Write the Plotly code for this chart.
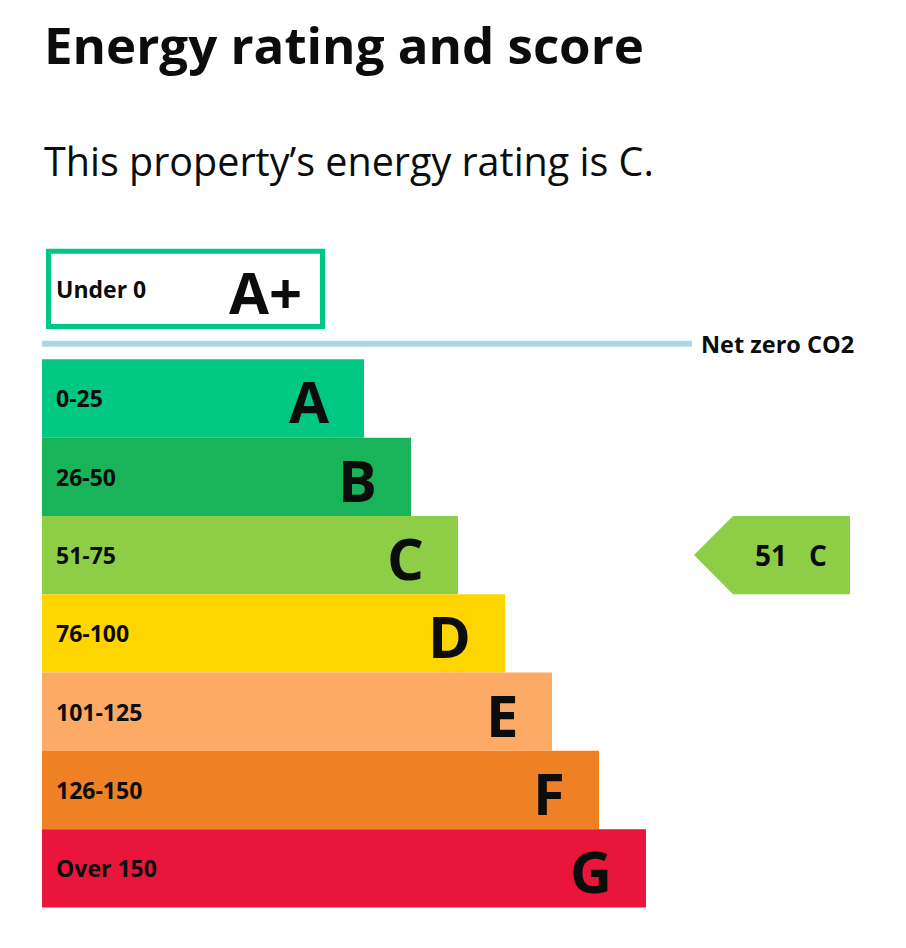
import plotly.graph_objects as go

# EPC bands, best to worst
bands = ['A', 'B', 'C', 'D', 'E', 'F', 'G']
score_ranges = ['0-25', '26-50', '51-75', '76-100', '101-125', '126-150', 'Over 150']
bar_lengths = [322, 369, 416, 463, 510, 557, 604]
band_colors = ['#00c781', '#19b459', '#8dce46', '#ffd500', '#fcaa65', '#ef8023', '#e9153b']

plus_band = 'A+'
plus_range = 'Under 0'
plus_length = 274

current_score = 51
current_band = 'C'

title = 'Energy rating and score'
subtitle = 'This property\u2019s energy rating is C.'
net_zero_label = 'Net zero CO2'
net_zero_length = 650

FONT = 'Open Sans'
INK = '#0b0c0c'
W, H = 906, 948
OFF = 8  # page body margin

rows = list(range(1, len(bands) + 1))

fig = go.Figure()

# main band bars
fig.add_trace(go.Bar(
    x=bar_lengths, y=rows, orientation='h', width=1,
    marker=dict(color=band_colors, line=dict(width=0)),
    hoverinfo='skip'))

# A+ outlined box
fig.add_trace(go.Bar(
    x=[plus_length], y=[-0.4], base=[6.5], orientation='h', width=0.958,
    marker=dict(color='white', line=dict(color='#00c781', width=5)),
    hoverinfo='skip'))

# net zero line
fig.add_trace(go.Scatter(
    x=[0, net_zero_length], y=[0.3, 0.3], mode='lines',
    line=dict(color='#add5e3', width=6), hoverinfo='skip'))

# current rating pointer
r = bands.index(current_band) + 1
tip, shoulder, right = 652, 691, 808
fig.add_trace(go.Scatter(
    x=[tip, shoulder, right, right, shoulder, tip],
    y=[r, r - 0.5, r - 0.5, r + 0.5, r + 0.5, r],
    mode='lines', fill='toself', fillcolor=band_colors[r - 1],
    line=dict(width=0, color=band_colors[r - 1]), hoverinfo='skip'))

ann = []
for i, (b, rng, ln) in enumerate(zip(bands, score_ranges, bar_lengths)):
    ann.append(dict(x=12, y=i + 1, text='<b>%s</b>' % rng, showarrow=False,
                    xanchor='left', yanchor='middle',
                    font=dict(family=FONT, size=23, color=INK)))
    ann.append(dict(x=ln - 32, y=i + 1.03, text='<b>%s</b>' % b, showarrow=False,
                    xanchor='right', yanchor='middle',
                    font=dict(family=FONT, size=58, color=INK)))

ann.append(dict(x=12, y=-0.4, text='<b>%s</b>' % plus_range, showarrow=False,
                xanchor='left', yanchor='middle',
                font=dict(family=FONT, size=23, color=INK)))
ann.append(dict(x=plus_length - 12, y=-0.37, text='<b>%s</b>' % plus_band, showarrow=False,
                xanchor='right', yanchor='middle',
                font=dict(family=FONT, size=58, color=INK)))
ann.append(dict(x=net_zero_length + 7, y=0.3, text='<b>%s</b>' % net_zero_label,
                showarrow=False, xanchor='left', yanchor='middle',
                font=dict(family=FONT, size=23.5, color=INK)))
ann.append(dict(x=shoulder + 56, y=r, text='<b>%d</b>' % current_score,
                showarrow=False, xanchor='right', yanchor='middle',
                font=dict(family=FONT, size=28, color=INK)))
ann.append(dict(x=shoulder + 74, y=r, text='<b>%s</b>' % current_band,
                showarrow=False, xanchor='left', yanchor='middle',
                font=dict(family=FONT, size=28, color=INK)))

ann.append(dict(x=(44 - OFF - 2) / W, y=1 - (44 - OFF) / H, xref='paper', yref='paper',
                text='<b>%s</b>' % title,
                showarrow=False, xanchor='left', yanchor='middle',
                font=dict(family=FONT, size=51, color=INK)))
ann.append(dict(x=(44 - OFF - 2) / W, y=1 - (161 - OFF) / H, xref='paper', yref='paper',
                text=subtitle,
                showarrow=False, xanchor='left', yanchor='middle',
                font=dict(family=FONT, size=39.5, color=INK)))

fig.update_layout(
    width=W, height=H,
    margin=dict(l=0, r=0, t=0, b=0),
    paper_bgcolor='white', plot_bgcolor='white',
    showlegend=False, barmode='overlay',
    annotations=ann,
)
fig.update_xaxes(range=[-(42 - OFF), W - (42 - OFF)], visible=False, fixedrange=True)
fig.update_yaxes(range=[8.120, -3.987], visible=False, fixedrange=True)

fig.write_html('out.html')
